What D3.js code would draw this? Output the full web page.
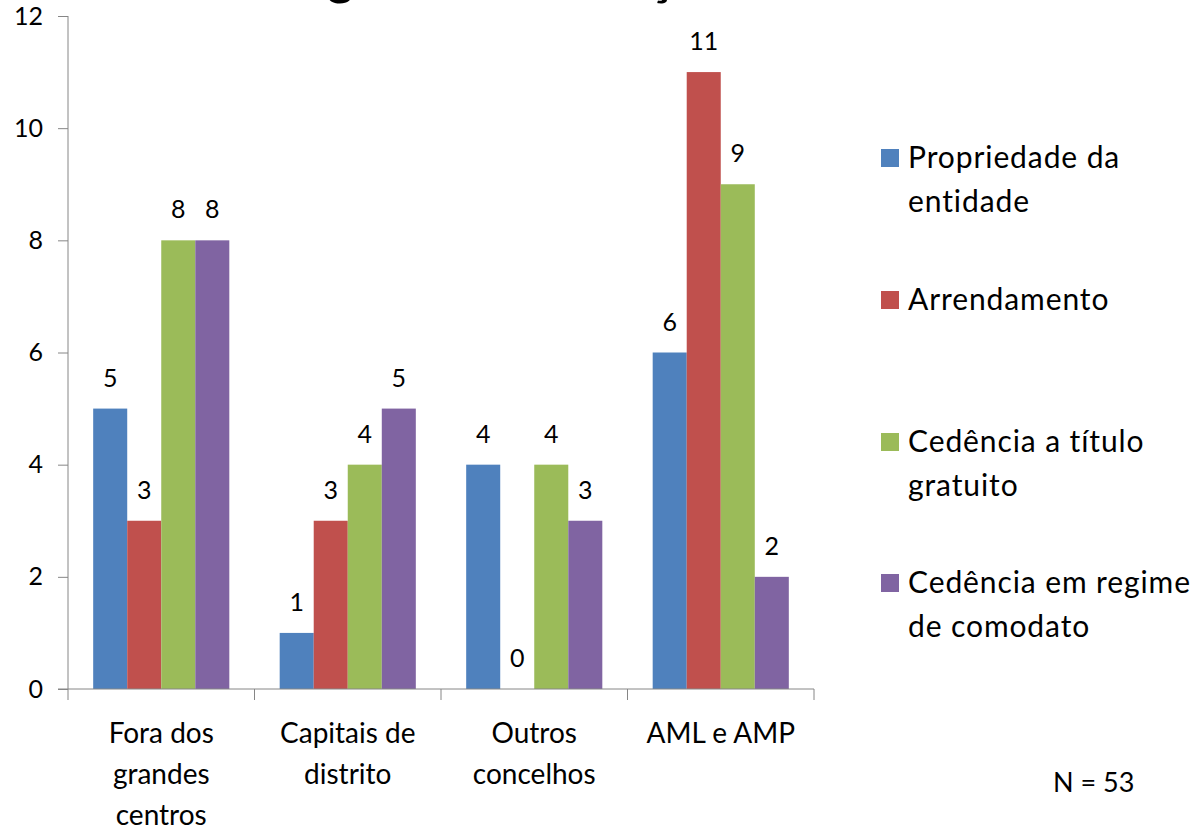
<!DOCTYPE html>
<html>
<head>
<meta charset="utf-8">
<script src="https://cdn.jsdelivr.net/npm/d3@7"></script>
<style>
  html, body { margin: 0; padding: 0; background: #fff; }
  svg { display: block; }
  text { font-family: Lato, "Open Sans", sans-serif; fill: #000; }
</style>
</head>
<body>
<svg id="chart" width="1196" height="833"></svg>
<script>
const categories = [["Fora dos", "grandes", "centros"], ["Capitais de", "distrito"], ["Outros", "concelhos"], ["AML e AMP"]];
const seriesNames = [["Propriedade da", "entidade"], ["Arrendamento"], ["Cedência a título", "gratuito"], ["Cedência em regime", "de comodato"]];
const propriedade = [5, 1, 4, 6];
const arrendamento = [3, 3, 0, 11];
const cedenciaGratuito = [8, 4, 4, 9];
const cedenciaComodato = [8, 5, 3, 2];
const yTicks = [0, 2, 4, 6, 8, 10, 12];
const colors = ["#4F81BD", "#C0504D", "#9BBB59", "#8064A2"];
const titleText = "Regime de utilização";
const noteText = "N = 53";

const series = [propriedade, arrendamento, cedenciaGratuito, cedenciaComodato];
const svg = d3.select("#chart");

const x0 = d3.scaleBand().domain(d3.range(categories.length)).range([68, 814]).padding(0);
const x1 = d3.scaleBand().domain(d3.range(series.length)).range([0, x0.bandwidth()]).paddingInner(0).paddingOuter(0.74);
const y = d3.scaleLinear().domain([0, 12]).range([689, 16]);

// title (mostly clipped at top, as in the reference)
svg.append("text").attr("x", 270).attr("y", -5)
  .attr("font-size", 50).attr("font-weight", "bold").text(titleText);

// bars
const groups = svg.append("g").selectAll("g").data(categories).join("g")
  .attr("transform", (d, i) => `translate(${x0(i)},0)`);
groups.each(function(c, ci) {
  const g = d3.select(this);
  series.forEach((s, si) => {
    g.append("rect")
      .attr("x", x1(si)).attr("width", x1.bandwidth())
      .attr("y", y(s[ci])).attr("height", y(0) - y(s[ci]))
      .attr("fill", colors[si]);
    g.append("text")
      .attr("x", x1(si) + x1.bandwidth() / 2).attr("y", y(s[ci]) - 22)
      .attr("text-anchor", "middle").attr("font-size", 25)
      .text(s[ci]);
  });
});

// y axis
const yAxis = d3.axisLeft(y).tickValues(yTicks).tickSize(10).tickPadding(15);
const yg = svg.append("g").attr("transform", "translate(68,0)").call(yAxis);
yg.select(".domain").attr("stroke", "#868686").attr("d", `M0,${y(12)}V${y(0)}`);
yg.selectAll(".tick line").attr("stroke", "#868686");
yg.selectAll(".tick text").attr("font-size", 25).attr("font-family", "Lato, sans-serif").attr("fill", "#000");

// x axis
const xAxis = d3.axisBottom(x0).tickSize(0).tickFormat("");
const xg = svg.append("g").attr("transform", `translate(0,${y(0)})`).call(xAxis);
xg.select(".domain").attr("stroke", "#868686").attr("d", `M58,0H814`);
xg.selectAll(".tick").remove();
const bounds = d3.range(categories.length + 1).map(i => i < categories.length ? x0(i) : x0(categories.length - 1) + x0.bandwidth());
xg.selectAll("line.sep").data(bounds).join("line").attr("class", "sep")
  .attr("x1", d => d).attr("x2", d => d).attr("y1", 0).attr("y2", 11).attr("stroke", "#868686");

// category labels
categories.forEach((lines, i) => {
  const t = svg.append("text").attr("text-anchor", "middle").attr("font-size", 28);
  lines.forEach((ln, k) => {
    t.append("tspan").attr("x", x0(i) + x0.bandwidth() / 2).attr("y", 743 + k * 41).text(ln);
  });
});

// legend
const legendBase = [168, 310, 452, 593];
seriesNames.forEach((lines, i) => {
  svg.append("rect").attr("x", 881).attr("y", legendBase[i] - 19).attr("width", 18).attr("height", 18).attr("fill", colors[i]);
  const t = svg.append("text").attr("font-size", 30).attr("letter-spacing", 0.9);
  lines.forEach((ln, k) => {
    t.append("tspan").attr("x", 908).attr("y", legendBase[i] + k * 44).text(ln);
  });
});

// note
svg.append("text").attr("x", 1053).attr("y", 792).attr("font-size", 27).text(noteText);
</script>
</body>
</html>
